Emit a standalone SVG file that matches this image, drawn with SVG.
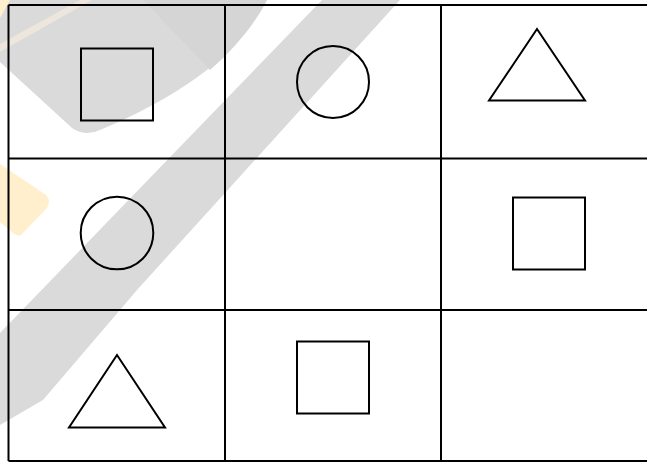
<svg xmlns="http://www.w3.org/2000/svg" width="647" height="462" viewBox="0 0 647 462">
  <style>
    .wm { fill: #dadada; stroke: none; }
    .wmy { fill: #ffefcc; stroke: none; }
    .grid { stroke: #000; stroke-width: 2; fill: none; }
    .shape { stroke: #000; stroke-width: 2; fill: none; }
  </style>
  <rect x="0" y="0" width="647" height="462" fill="#fff"/>
  <g id="watermark">
    <path class="wm" d="M0 0 H267 Q230 75 100 130 Q85 137 72 128 L0 62 Z"/>
    <path fill="#d5d5d5" d="M143 0 H267 Q245 40 210 70 Z"/>
    <path class="wm" d="M322 0 H400 L137 290 L43 400 L0 425 L0 333 Z"/>
    <path fill="#ece6dc" d="M0 44 L80 0 H92 L0 52 Z"/>
    <path class="wmy" d="M0 164 L46 195 Q52 202 46 209 L22 234 Q18 238 12 232 L0 222 Z"/>
    <path class="wmy" d="M0 0 H10 L0 18 Z"/>
  </g>
  <g id="grid" class="grid">
    <line x1="8.5" y1="5" x2="647" y2="5"/>
    <line x1="8.5" y1="158.5" x2="647" y2="158.5"/>
    <line x1="8.5" y1="310" x2="647" y2="310"/>
    <line x1="8.5" y1="461" x2="647" y2="461"/>
    <line x1="8.5" y1="5" x2="8.5" y2="461"/>
    <line x1="225" y1="5" x2="225" y2="461"/>
    <line x1="441" y1="5" x2="441" y2="461"/>
  </g>
  <g id="n1"><rect class="shape" x="81" y="48.5" width="72" height="72"/></g>
  <g id="n2"><circle class="shape" cx="333" cy="82" r="36"/></g>
  <g id="n3"><polygon class="shape" points="537,29 489,100.5 585,100.5"/></g>
  <g id="n4"><circle class="shape" cx="117" cy="233" r="36.3"/></g>
  <g id="n5"></g>
  <g id="n6"><rect class="shape" x="513" y="197.5" width="72" height="72"/></g>
  <g id="n7"><polygon class="shape" points="117,355 69,427.5 165,427.5"/></g>
  <g id="n8"><rect class="shape" x="297" y="341.5" width="72" height="72"/></g>
  <g id="n9"></g>
  <g id="connectors"></g>
</svg>
